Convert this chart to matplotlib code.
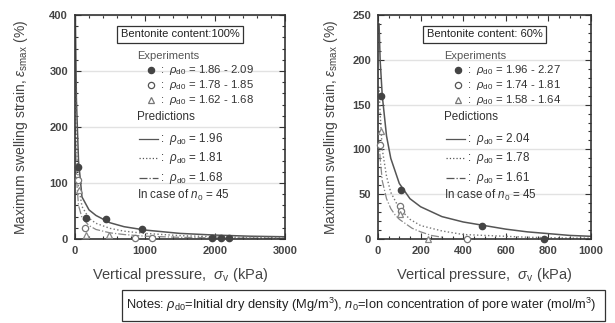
import matplotlib
matplotlib.use("Agg")
import matplotlib.pyplot as plt
from matplotlib.patches import Rectangle

plt.rcParams["font.family"] = ["Liberation Sans", "DejaVu Sans"]
plt.rcParams["mathtext.fontset"] = "custom"
plt.rcParams["mathtext.rm"] = "Liberation Sans"
plt.rcParams["mathtext.it"] = "Liberation Sans:italic"

# ---- Bentonite content 100% ----
b100_filled_x = [40, 157, 447, 957, 1950, 2080, 2200]
b100_filled_y = [128, 37, 35, 17, 1, 1, 1]
b100_open_x = [40, 147, 857, 1100]
b100_open_y = [105, 20, 2, 2]
b100_tri_x = [53, 160, 480]
b100_tri_y = [88, 7, 8]
b100_curve_x = [5, 20, 50, 100, 200, 300, 500, 700, 1000, 1500, 2000, 2500, 3000]
b100_solid_y = [400, 250, 140, 75, 52, 42, 29, 22, 16, 10, 7, 5, 4]
b100_dot_y = [300, 170, 95, 58, 37, 28, 19, 14, 10, 6, 4, 3, 2.5]
b100_dash_y = [200, 110, 60, 38, 24, 17, 11, 8, 5, 3, 2, 1.5, 1]

# ---- Bentonite content 60% ----
b60_filled_x = [15, 108, 490, 780]
b60_filled_y = [160, 55, 15, 0]
b60_open_x = [10, 105, 108, 420]
b60_open_y = [105, 37, 31, 0]
b60_tri_x = [15, 105, 235]
b60_tri_y = [120, 28, 0]
b60_curve_x = [5, 10, 20, 40, 60, 100, 150, 200, 300, 400, 500, 600, 700, 800, 900, 1000]
b60_solid_y = [240, 200, 160, 115, 90, 62, 45, 36, 25, 19, 15, 11, 8, 6, 4, 3]
b60_dot_y = [170, 140, 100, 70, 52, 34, 22, 15, 9, 5, 4, 3, 2, 1.5, 1, 1]
b60_dash_x = [5, 10, 20, 40, 60, 80, 100, 130, 160, 200, 250, 300]
b60_dash_y = [110, 90, 65, 45, 34, 27, 22, 17, 12, 8, 4, 2]

panels = [
    dict(title="Bentonite content:100%", xmax=3000, ymax=400, xmaj=1000, xmin=200, ymaj=100, ymin=20,
         fx=b100_filled_x, fy=b100_filled_y, ox=b100_open_x, oy=b100_open_y, tx=b100_tri_x, ty=b100_tri_y,
         cx=b100_curve_x, solid=b100_solid_y, dot=b100_dot_y, dx=b100_curve_x, dash=b100_dash_y,
         exp=["1.86 - 2.09", "1.78 - 1.85", "1.62 - 1.68"], pred=["1.96", "1.81", "1.68"],
         pred_title="Predictions", lx=0.295, ypad=14),
    dict(title="Bentonite content: 60%", xmax=1000, ymax=250, xmaj=200, xmin=50, ymaj=50, ymin=10,
         fx=b60_filled_x, fy=b60_filled_y, ox=b60_open_x, oy=b60_open_y, tx=b60_tri_x, ty=b60_tri_y,
         cx=b60_curve_x, solid=b60_solid_y, dot=b60_dot_y, dx=b60_dash_x, dash=b60_dash_y,
         exp=["1.96 - 2.27", "1.74 - 1.81", "1.58 - 1.64"], pred=["2.04", "1.78", "1.61"],
         pred_title="Pedictions", lx=0.31, ypad=9),
]

fig = plt.figure(figsize=(6.15, 3.23), dpi=100)
W, H = 615, 323
axes_px = [(75, 15, 210, 224), (378, 15, 213, 224)]
dark = "#333333"
line_c = "#555555"

for p, (x0, y0, w, h) in zip(panels, axes_px):
    ax = fig.add_axes([x0 / W, 1 - (y0 + h) / H, w / W, h / H])
    ax.set_xlim(0, p["xmax"])
    ax.set_ylim(0, p["ymax"])
    ax.set_xticks(range(0, p["xmax"] + 1, p["xmaj"]))
    ax.set_xticks(range(0, p["xmax"] + 1, p["xmin"]), minor=True)
    ax.set_yticks(range(0, p["ymax"] + 1, p["ymaj"]))
    ax.set_yticks(range(0, p["ymax"] + 1, p["ymin"]), minor=True)
    ax.tick_params(which="both", direction="in", top=True, right=True, colors=dark,
                   labelsize=8, labelcolor="#444444", width=0.8)
    ax.tick_params(which="major", length=4, pad=5)
    ax.tick_params(which="minor", length=2)
    for lab in ax.get_xticklabels() + ax.get_yticklabels():
        lab.set_fontweight("bold")
    for s in ax.spines.values():
        s.set_color(dark)
        s.set_linewidth(1.2)
    ax.yaxis.grid(True, color="#e2e2e2", linewidth=1.0)
    ax.set_axisbelow(True)

    ax.plot(p["cx"], p["solid"], "-", color=line_c, lw=1.1)
    ax.plot(p["cx"], p["dot"], ":", color="#777777", lw=1.0)
    ax.plot(p["dx"], p["dash"], "-.", color="#888888", lw=0.9)
    ax.plot(p["fx"], p["fy"], "o", color="#444444", ms=4.5, clip_on=False, zorder=5)
    ax.plot(p["ox"], p["oy"], "o", mfc="white", mec="#777777", ms=4.5, mew=0.9, clip_on=False, zorder=5)
    ax.plot(p["tx"], p["ty"], "^", mfc="white", mec="#888888", ms=4.5, mew=0.9, clip_on=False, zorder=5)

    ax.set_xlabel(r"Vertical pressure,  $\sigma_{\rm v}$ (kPa)", fontsize=10.5, color="#444444", labelpad=7)
    ax.set_ylabel(r"Maximum swelling strain, $\epsilon_{\rm smax}$ (%)", fontsize=10, color="#444444",
                  labelpad=p["ypad"])

    # legend drawn in axes fraction
    tr = ax.transAxes
    ax.text(0.5, 0.913, p["title"], transform=tr, ha="center", va="center", fontsize=8, color="#222222",
            bbox=dict(boxstyle="square,pad=0.35", fc="white", ec=dark, lw=0.9))
    lx = p["lx"]
    ax.text(lx, 0.815, "Experiments", transform=tr, fontsize=8, color="#555555", va="center")
    rows_y = [0.753, 0.686, 0.619]
    mk = [dict(marker="o", mfc="#444444", mec="#444444"),
          dict(marker="o", mfc="white", mec="#555555"),
          dict(marker="^", mfc="white", mec="#777777")]
    for yy, m, rng in zip(rows_y, mk, p["exp"]):
        ax.plot([lx + 0.065], [yy], transform=tr, ms=4.5, mew=0.9, ls="none", **m)
        ax.text(lx + 0.11, yy, r":  $\rho_{\rm d0}$ = " + rng, transform=tr, fontsize=8.2, color="#333333", va="center")
    ax.text(lx, 0.545, p["pred_title"], transform=tr, fontsize=8.4, color="#333333", va="center")
    styles = ["-", ":", "-."]
    pred_y = [0.446, 0.362, 0.272]
    for yy, st, val in zip(pred_y, styles, p["pred"]):
        ax.plot([lx + 0.01, lx + 0.10], [yy, yy], st, transform=tr, color=line_c, lw=0.9)
        ax.text(lx + 0.11, yy, r":  $\rho_{\rm d0}$ = " + val, transform=tr, fontsize=8.4, color="#333333", va="center")
    ax.text(lx, 0.196, r"In case of $n_0$ = 45", transform=tr, fontsize=8.4, color="#333333", va="center")

# notes box
fig.patches.append(Rectangle((122 / W, 1 - 321 / H), (605 - 122) / W, (321 - 290) / H,
                             transform=fig.transFigure, fill=False, ec=dark, lw=0.9))
fig.text(126 / W, 1 - 305 / H,
         r"Notes: $\rho_{\rm d0}$=Initial dry density (Mg/m$^3$), $n_0$=Ion concentration of pore water (mol/m$^3$)",
         fontsize=9.3, color="#222222", va="center", ha="left")

fig.savefig("out.png", dpi=100, facecolor="white")
